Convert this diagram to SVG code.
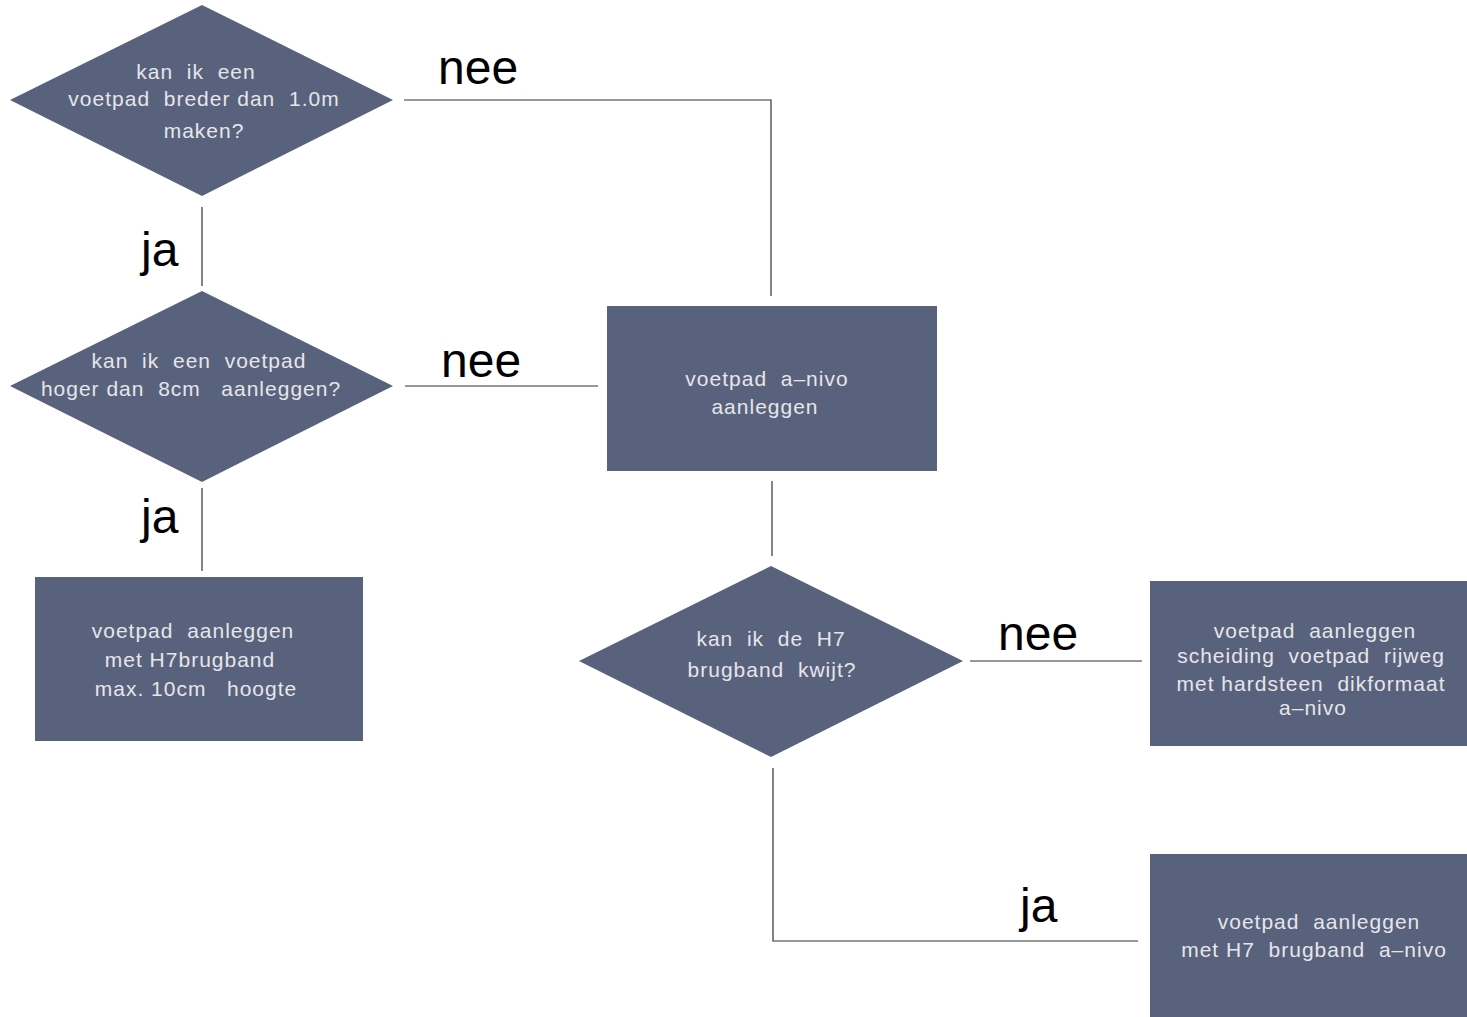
<svg xmlns="http://www.w3.org/2000/svg" width="1467" height="1017" viewBox="0 0 1467 1017">
<style>
.shape{fill:#59627c;}
.t{font-family:"Liberation Sans",Arial,sans-serif;font-size:21px;fill:#e6e6ea;text-anchor:middle;white-space:pre;letter-spacing:1px;}
.lbl{font-family:"Liberation Sans",Arial,sans-serif;font-size:48px;fill:#000;}
.c{stroke:#333;stroke-width:1.2;fill:none;}
</style>
<rect width="1467" height="1017" fill="#fff"/>
<g id="connectors">
<polyline class="c" points="404,100 771,100 771,296"/>
<line class="c" x1="202" y1="207" x2="202" y2="286"/>
<line class="c" x1="405" y1="386" x2="598" y2="386"/>
<line class="c" x1="202" y1="488" x2="202" y2="571"/>
<line class="c" x1="772" y1="481" x2="772" y2="556"/>
<line class="c" x1="970" y1="661" x2="1142" y2="661"/>
<polyline class="c" points="773,768 773,941 1138,941"/>
<text class="lbl" x="438" y="84">nee</text>
<text class="lbl" x="141" y="266">ja</text>
<text class="lbl" x="441" y="377">nee</text>
<text class="lbl" x="141" y="533">ja</text>
<text class="lbl" x="998" y="650">nee</text>
<text class="lbl" x="1020" y="922">ja</text>
</g>
<g id="d1">
<polygon class="shape" points="10,100 202,5 393,100 202,196"/>
<text class="t" x="196" y="79">kan  ik  een</text>
<text class="t" x="204" y="106">voetpad  breder dan  1.0m</text>
<text class="t" x="204" y="138">maken?</text>
</g>
<g id="d2">
<polygon class="shape" points="10,386 202,291 393,386 202,482"/>
<text class="t" x="199" y="368">kan  ik  een  voetpad</text>
<text class="t" x="191" y="396">hoger dan  8cm   aanleggen?</text>
</g>
<g id="r1">
<rect class="shape" x="607" y="306" width="330" height="165"/>
<text class="t" x="767" y="386">voetpad  a–nivo</text>
<text class="t" x="765" y="414">aanleggen</text>
</g>
<g id="r2">
<rect class="shape" x="35" y="577" width="328" height="164"/>
<text class="t" x="193" y="638">voetpad  aanleggen</text>
<text class="t" x="190" y="667">met H7brugband</text>
<text class="t" x="196" y="696">max. 10cm   hoogte</text>
</g>
<g id="d3">
<polygon class="shape" points="579,661 771,566 963,661 771,757"/>
<text class="t" x="771" y="646">kan  ik  de  H7</text>
<text class="t" x="772" y="677">brugband  kwijt?</text>
</g>
<g id="r3">
<rect class="shape" x="1150" y="581" width="317" height="165"/>
<text class="t" x="1315" y="638">voetpad  aanleggen</text>
<text class="t" x="1311" y="663">scheiding  voetpad  rijweg</text>
<text class="t" x="1311" y="691">met hardsteen  dikformaat</text>
<text class="t" x="1313" y="715">a–nivo</text>
</g>
<g id="r4">
<rect class="shape" x="1150" y="854" width="317" height="163"/>
<text class="t" x="1319" y="929">voetpad  aanleggen</text>
<text class="t" x="1314" y="957">met H7  brugband  a–nivo</text>
</g>
</svg>
